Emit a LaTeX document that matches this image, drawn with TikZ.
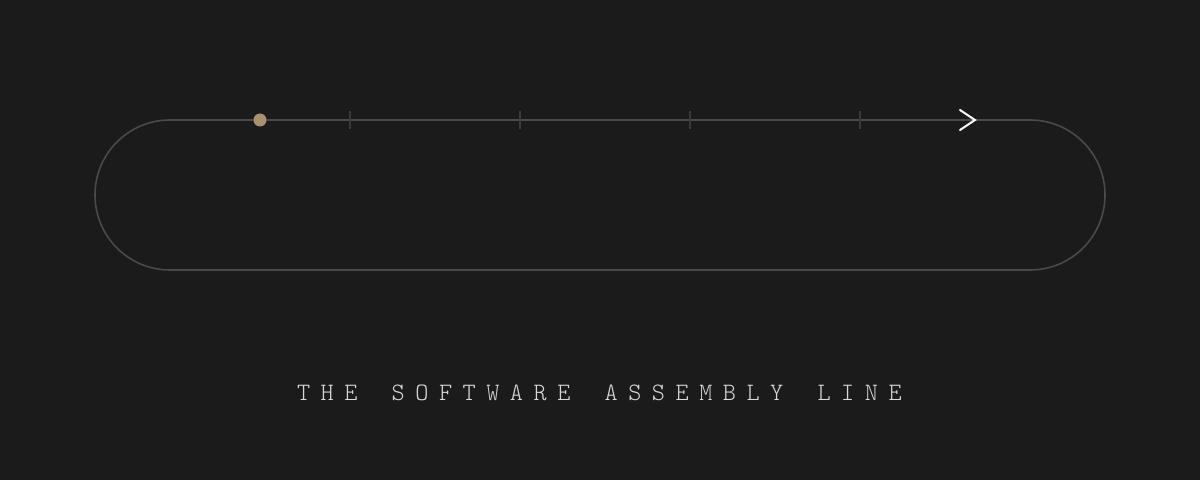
\documentclass[tikz,border=0pt]{standalone}
\definecolor{bg}{HTML}{1B1B1B}
\definecolor{loopcol}{HTML}{4A4A4A}
\definecolor{tickcol}{HTML}{3A3A3A}
\definecolor{dotcol}{HTML}{A89070}
\definecolor{textcol}{HTML}{DADADA}
\tikzset{
  loopline/.style={draw=loopcol, line width=1.6pt},
  tickmark/.style={draw=tickcol, line width=1.5pt},
  startdot/.style={circle, fill=dotcol, inner sep=0pt, minimum size=13pt},
  chevron/.style={draw=white, line width=2pt, line cap=round, line join=miter},
  titleletter/.style={text=textcol, inner sep=0pt, anchor=base, font=\ttfamily\fontseries{l}\fontsize{25}{30}\selectfont}
}
\begin{document}
\begin{tikzpicture}[x=1pt,y=1pt]
\fill[bg] (0,0) rectangle (1200,480);
\useasboundingbox (0,0) rectangle (1200,480);
% loop
\draw[loopline, rounded corners=75pt] (95,210) rectangle (1105,360);
% ticks
\foreach \x in {350,520,690,860} {\draw[tickmark] (\x,351) -- (\x,369);}
% start dot
\node[startdot] (start) at (260,360) {};
% chevron
\coordinate (tip) at (975,360);
\draw[chevron] (960,370) -- (tip) -- (960,350);
% title: THE SOFTWARE ASSEMBLY LINE, monospaced with wide tracking
\foreach \c/\i in {T/0,H/1,E/2,S/4,O/5,F/6,T/7,W/8,A/9,R/10,E/11,A/13,S/14,S/15,E/16,M/17,B/18,L/19,Y/20,L/22,I/23,N/24,E/25}
  {\node[titleletter] (title\i) at (303.6+\i*23.66,80) {\c};}
\end{tikzpicture}
\end{document}
